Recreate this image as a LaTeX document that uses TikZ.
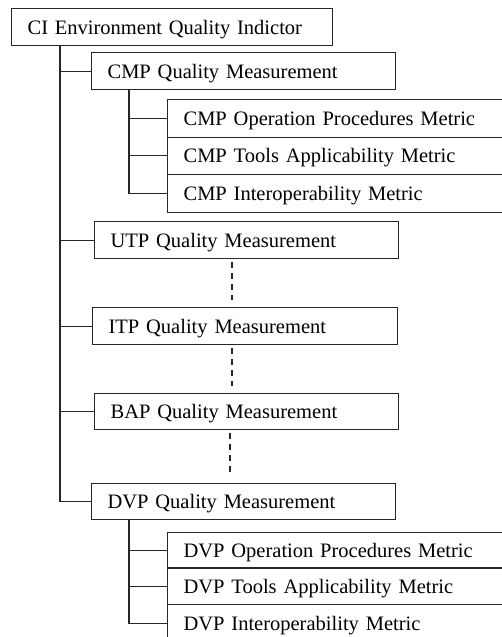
\documentclass[tikz,border=0pt]{standalone}
\usepackage{fontspec}
\setmainfont{Liberation Serif}
\begin{document}
\begin{tikzpicture}[x=1pt,y=1pt,
  box/.style={draw=black!85, line width=1.2pt, rectangle, anchor=north west,
    inner xsep=16pt, inner ysep=0pt, minimum height=37pt,
    text height=18pt, text depth=4pt, align=left,
    font=\fontsize{20.5}{24}\selectfont},
  link/.style={draw=black!85, line width=1.2pt},
  dots/.style={draw=black!85, line width=1.2pt, dash pattern=on 6pt off 5pt,
    shorten <=3pt, shorten >=7pt}]
\useasboundingbox (0,0) rectangle (502,-637);
\clip (0,0) rectangle (502,-637);
% main boxes
\node[box, text width=289pt] (top) at (11,-8) {CI Environment Quality Indictor};
\node[box, text width=272pt] (cmp) at (91,-52) {CMP Quality Measurement};
\node[box, text width=308pt, minimum height=37.5pt] (cmpa) at (167,-99) {CMP Operation Procedures Metric};
\node[box, text width=308pt, minimum height=37.5pt] (cmpb) at (167,-136.5) {CMP Tools Applicability Metric};
\node[box, text width=308pt, minimum height=37.5pt] (cmpc) at (167,-174) {CMP Interoperability Metric};
\node[box, text width=272pt] (utp) at (94,-221) {UTP Quality Measurement};
\node[box, text width=273pt] (itp) at (92,-307) {ITP Quality Measurement};
\node[box, text width=272pt, minimum height=36pt] (bap) at (94,-393) {BAP Quality Measurement};
\node[box, text width=272pt, minimum height=36pt] (dvp) at (91,-483) {DVP Quality Measurement};
\node[box, text width=308pt, minimum height=36pt] (dvpa) at (167,-531.5) {DVP Operation Procedures Metric};
\node[box, text width=308pt, minimum height=37pt] (dvpb) at (167,-567) {DVP Tools Applicability Metric};
\node[box, text width=308pt, minimum height=37pt] (dvpc) at (167,-604) {DVP Interoperability Metric};
% main trunk
\coordinate (t) at ([xshift=49pt]top.south west);
\draw[link] (t) |- (dvp.west);
\foreach \n in {cmp,utp,itp,bap}{\draw[link] (t |- \n.west) -- (\n.west);}
% CMP sub trunk
\coordinate (c) at ([xshift=38pt]cmp.south west);
\draw[link] (c) |- (cmpc.west);
\foreach \n in {cmpa,cmpb}{\draw[link] (c |- \n.west) -- (\n.west);}
% DVP sub trunk
\coordinate (d) at ([xshift=38pt]dvp.south west);
\draw[link] (d) |- (dvpc.west);
\foreach \n in {dvpa,dvpb}{\draw[link] (d |- \n.west) -- (\n.west);}
% dashed continuations
\coordinate (u) at ([xshift=138pt]utp.south west);
\draw[dots] (u) -- (u |- itp.north);
\coordinate (i) at ([xshift=140pt]itp.south west);
\draw[dots] (i) -- (i |- bap.north);
\coordinate (b) at ([xshift=136pt]bap.south west);
\draw[dots] (b) -- (b |- dvp.north);
\end{tikzpicture}
\end{document}
